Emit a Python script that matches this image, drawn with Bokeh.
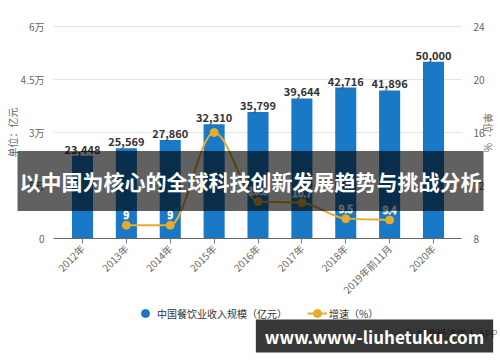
import math
from bokeh.plotting import figure
from bokeh.models import (Range1d, LinearAxis, FixedTicker, Legend, LegendItem, Label)
from bokeh.core.properties import value
from bokeh.embed import file_html
from bokeh.resources import INLINE

# ---- data ----
categories = ["2012年", "2013年", "2014年", "2015年", "2016年", "2017年", "2018年", "2019年前11月", "2020年"]
revenue = [23448, 25569, 27860, 32310, 35799, 39644, 42716, 41896, 50000]
growth_years = ["2013年", "2014年", "2015年", "2016年", "2017年", "2018年", "2019年前11月"]
growth = [9.0, 9.0, 16.0, 10.8, 10.7, 9.5, 9.4]
growth_labels = ["9", "9", "", "10.8", "10.7", "9.5", "9.4"]
left_ticks = [0, 15000, 30000, 45000, 60000]
left_tick_labels = ["0", "1.5万", "3万", "4.5万", "6万"]
right_ticks = [8, 12, 16, 20, 24]
right_tick_labels = ["8", "12", "16", "20", "24"]
axis_titles = ["单位：亿元", "单位：%"]
series_names = ["中国餐饮业收入规模（亿元）", "增速（%）"]
title_banner = "以中国为核心的全球科技创新发展趋势与挑战分析"
site_banner = "www.www-liuhetuku.com"
source_note = "◎ 前瞻经济学人 APP"

FONT = "Noto Sans CJK SC"
BAR = "#1a79c6"
GOLD = "#e6ac2e"
TICK = "#666666"
NAN = float("nan")

# ---- layout (pixels) ----
W, H = 500, 362
PLOT_L, PLOT_R, PLOT_T, PLOT_B = 53, 461, 26, 238
CAT_FIRST_PX, CAT_LAST_PX = 82, 433

idx = list(range(len(categories)))
gx = [categories.index(c) for c in growth_years]

kx = (CAT_LAST_PX - CAT_FIRST_PX) / (idx[-1] - idx[0])
def px_to_x(px):
    return idx[0] + (px - CAT_FIRST_PX) / kx

ly0, ly1 = left_ticks[0], left_ticks[-1]
ky = (PLOT_B - PLOT_T) / (ly1 - ly0)
def py_to_left(py):
    return ly0 + (PLOT_B - py) / ky

ry0, ry1 = right_ticks[0], right_ticks[-1]
kr = (PLOT_B - PLOT_T) / (ry1 - ry0)
def py_to_right(py):
    return ry0 + (PLOT_B - py) / kr

xl, xr = px_to_x(PLOT_L), px_to_x(PLOT_R)

p = figure(width=W, height=H,
           x_range=Range1d(px_to_x(0), px_to_x(W)),
           y_range=Range1d(py_to_left(H), py_to_left(0)),
           x_axis_location=None, y_axis_location=None,
           output_backend="svg", toolbar_location=None,
           min_border=0, min_border_left=0, min_border_right=0,
           min_border_top=0, min_border_bottom=0)
p.outline_line_color = None
p.background_fill_color = "white"
p.border_fill_color = "white"
p.extra_y_ranges = {"right": Range1d(py_to_right(H), py_to_right(0))}
for g in p.grid:
    g.visible = False

# gridlines restricted to the plot area
p.segment(x0=[xl] * len(left_ticks), x1=[xr] * len(left_ticks),
          y0=left_ticks, y1=left_ticks, line_color="#e3e3e3", line_width=1, level="underlay")

# bottom axis
xa = LinearAxis(fixed_location=0, ticker=FixedTicker(ticks=idx), bounds=(xl, xr))
xa.major_label_overrides = {i: c for i, c in zip(idx, categories)}
xa.major_label_orientation = math.pi / 4
xa.axis_line_color = "#666666"
xa.major_tick_line_color = "#777777"
xa.major_tick_out = 5
xa.major_tick_in = 0
xa.minor_tick_line_color = None
xa.major_label_text_font = FONT
xa.major_label_text_font_size = "10px"
xa.major_label_text_color = TICK
xa.major_label_standoff = 3
p.add_layout(xa, "below")

# left axis
ya = LinearAxis(fixed_location=xl, ticker=FixedTicker(ticks=left_ticks), bounds=(ly0, ly1))
ya.major_label_overrides = {t: l for t, l in zip(left_ticks, left_tick_labels)}
ya.axis_line_color = None
ya.major_tick_line_color = None
ya.minor_tick_line_color = None
ya.major_label_text_font = FONT
ya.major_label_text_font_size = "10px"
ya.major_label_text_color = TICK
ya.major_label_standoff = 3
p.add_layout(ya, "left")

# right axis
ra = LinearAxis(fixed_location=xr, y_range_name="right",
                ticker=FixedTicker(ticks=right_ticks), bounds=(ry0, ry1))
ra.major_label_overrides = {t: l for t, l in zip(right_ticks, right_tick_labels)}
ra.axis_line_color = None
ra.major_tick_line_color = None
ra.minor_tick_line_color = None
ra.major_label_text_font = FONT
ra.major_label_text_font_size = "10px"
ra.major_label_text_color = TICK
ra.major_label_standoff = 6
p.add_layout(ra, "right")

# axis titles
p.add_layout(Label(x=12, y=H - (PLOT_T + PLOT_B) / 2, x_units="screen", y_units="screen",
                   text=axis_titles[0], angle=math.pi / 2, text_align="center",
                   text_baseline="middle", text_font=FONT, text_font_size="10px",
                   text_color=TICK))
p.add_layout(Label(x=488, y=H - (PLOT_T + PLOT_B) / 2, x_units="screen", y_units="screen",
                   text=axis_titles[1], angle=-math.pi / 2, text_align="center",
                   text_baseline="middle", text_font=FONT, text_font_size="10px",
                   text_color=TICK))

# bars
p.vbar(x=idx, top=revenue, width=0.48, fill_color=BAR, line_color=None)
p.text(x=idx, y=revenue, text=[f"{v:,}" for v in revenue],
       text_align="center", text_baseline="bottom", y_offset=-2,
       text_font=value(FONT), text_font_size="11px", text_font_style="bold",
       text_color="#333333")

# smooth growth line (monotone cubic through the data points)
n = len(growth)
slopes = [(growth[i + 1] - growth[i]) / (gx[i + 1] - gx[i]) for i in range(n - 1)]
tang = []
for i in range(n):
    if i == 0:
        tang.append(slopes[0])
    elif i == n - 1:
        tang.append(slopes[-1])
    else:
        a, b = slopes[i - 1], slopes[i]
        tang.append(0.0 if a * b <= 0 else 2.0 / (1.0 / a + 1.0 / b))
cx0 = [gx[i] + (gx[i + 1] - gx[i]) / 3 for i in range(n - 1)]
cy0 = [growth[i] + tang[i] * (gx[i + 1] - gx[i]) / 3 for i in range(n - 1)]
cx1 = [gx[i + 1] - (gx[i + 1] - gx[i]) / 3 for i in range(n - 1)]
cy1 = [growth[i + 1] - tang[i + 1] * (gx[i + 1] - gx[i]) / 3 for i in range(n - 1)]
p.bezier(x0=gx[:-1], y0=growth[:-1], x1=gx[1:], y1=growth[1:],
         cx0=cx0, cy0=cy0, cx1=cx1, cy1=cy1,
         y_range_name="right", line_color=GOLD, line_width=2)
p.scatter(x=gx, y=growth, y_range_name="right", size=8,
          fill_color=GOLD, line_color=GOLD)
p.text(x=gx, y=growth, text=growth_labels, y_range_name="right",
       text_align="center", text_baseline="bottom", y_offset=-6,
       text_font=value(FONT), text_font_size="10px",
       text_color="#555555", text_outline_color="white")

# legend (proxy renderers hold a single non-drawable NaN row so the key glyphs render)
leg_bar = p.scatter(x=[NAN], y=[NAN], size=10, fill_color=BAR, line_color=BAR)
leg_line = p.line(x=[NAN], y=[NAN], line_color=GOLD, line_width=2)
leg_dot = p.scatter(x=[NAN], y=[NAN], size=7, fill_color=GOLD, line_color=GOLD)
legend = Legend(items=[LegendItem(label=series_names[0], renderers=[leg_bar]),
                       LegendItem(label=series_names[1], renderers=[leg_line, leg_dot])],
                orientation="horizontal", location=(135, H - 324),
                label_text_font=FONT, label_text_font_size="10px", label_text_color="#333333",
                border_line_color=None, background_fill_alpha=0,
                glyph_width=20, glyph_height=22, label_height=20,
                spacing=20, padding=0, margin=0, label_standoff=2)
p.add_layout(legend, "center")

# source note (mostly hidden under the site banner)
p.add_layout(Label(x=497, y=H - 333, x_units="screen", y_units="screen", text=source_note,
                   text_align="right", text_baseline="middle",
                   text_font=FONT, text_font_size="10px", text_color="#888888"))

# overlay banners
p.add_layout(Label(x=250, y=H - 180.5, x_units="screen", y_units="screen", text=title_banner,
                   text_align="center", text_baseline="middle",
                   text_font=FONT, text_font_size="21px", text_font_style="bold",
                   text_color="white", background_fill_color="black",
                   background_fill_alpha=0.62, padding=(2, 15)))
p.add_layout(Label(x=374, y=H - 335.5, x_units="screen", y_units="screen", text=site_banner,
                   text_align="center", text_baseline="middle",
                   text_font=FONT, text_font_size="17px", text_font_style="bold",
                   text_color="white", background_fill_color="black",
                   background_fill_alpha=0.78, padding=(9, 4)))

open("out.html", "w").write(file_html(p, INLINE))
